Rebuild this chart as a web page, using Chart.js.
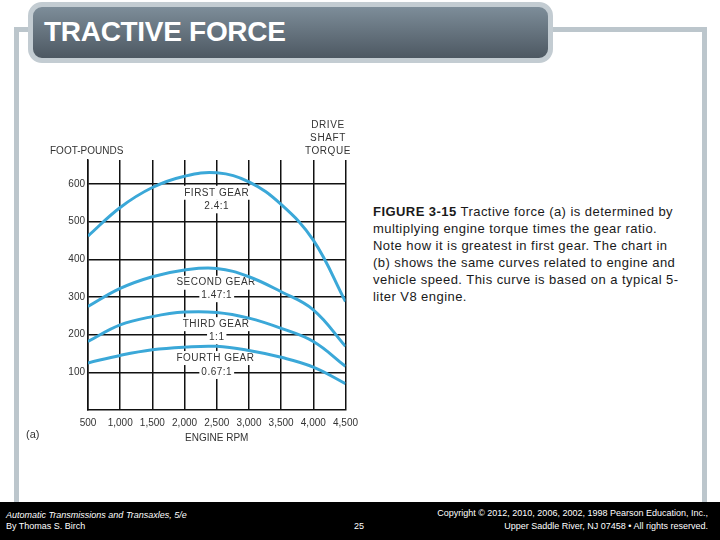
<!DOCTYPE html>
<html>
<head>
<meta charset="utf-8">
<script src="https://cdn.jsdelivr.net/npm/chart.js@4.4.1/dist/chart.umd.min.js"></script>
<style>
  html, body { margin: 0; padding: 0; background: #fff; }
  body { width: 720px; height: 540px; position: relative; overflow: hidden; font-family: "Liberation Sans", Arial, sans-serif; }
  .frame { position: absolute; background: #bcc6cc; }
  #titlebox {
    position: absolute; left: 28px; top: 2px; width: 525px; height: 61px; box-sizing: border-box;
    border: 5px solid #c3ccd2; border-radius: 14px;
    background: linear-gradient(#7d8d99, #4d5862);
  }
  #titlebox span { position: absolute; left: 11px; top: 9px; color: #fff; font-weight: bold; font-size: 28px; letter-spacing: -0.3px; }
  #chart-wrap { position: absolute; left: 20px; top: 110px; width: 345px; height: 340px; }
  .lbl { position: absolute; color: #333; font-size: 10px; white-space: nowrap; }
  #caption { position: absolute; left: 373px; top: 203px; font-size: 13px; letter-spacing: 0.45px; line-height: 17px; color: #1a1a1a; white-space: nowrap; }
  #footer { position: absolute; left: 0; top: 502px; width: 720px; height: 38px; background: #000; color: #fff; font-size: 9px; }
  #footer div { position: absolute; white-space: nowrap; }
</style>
</head>
<body>
<div class="frame" style="left:14px;top:27px;width:5px;height:475px;"></div>
<div class="frame" style="left:14px;top:27px;width:20px;height:5px;"></div>
<div class="frame" style="left:550px;top:27px;width:157px;height:5px;"></div>
<div class="frame" style="left:702px;top:27px;width:5px;height:475px;"></div>
<div id="titlebox"><span>TRACTIVE FORCE</span></div>

<div id="chart-wrap"><canvas id="chart-traccion" width="345" height="340"></canvas></div>

<div class="lbl" style="left:50px;top:145px;">FOOT-POUNDS</div>
<div class="lbl" style="left:298px;top:119px;width:60px;text-align:center;letter-spacing:0.6px;line-height:12.8px;">DRIVE<br>SHAFT<br>TORQUE</div>
<div class="lbl" style="left:26px;top:428px;font-size:11px;">(a)</div>

<div id="caption"><b>FIGURE 3-15</b> Tractive force (a) is determined by<br>multiplying engine torque times the gear ratio.<br>Note how it is greatest in first gear. The chart in<br>(b) shows the same curves related to engine and<br>vehicle speed. This curve is based on a typical 5-<br>liter V8 engine.</div>

<div id="footer">
  <div style="left:6px;top:8px;font-style:italic;">Automatic Transmissions and Transaxles, 5/e</div>
  <div style="left:6px;top:19px;">By Thomas S. Birch</div>
  <div style="left:354px;top:19px;">25</div>
  <div style="right:12px;top:6px;">Copyright © 2012, 2010, 2006, 2002, 1998 Pearson Education, Inc.,</div>
  <div style="right:12px;top:19px;">Upper Saddle River, NJ 07458 • All rights reserved.</div>
</div>

<script>
// ==================== DATOS ====================
const rpm        = [500, 1000, 1500, 2000, 2500, 3000, 3500, 4000, 4500];
const firstGear  = [462, 538, 591, 621, 630, 606, 546, 451, 288];
const secondGear = [275, 323, 354, 372, 376, 354, 314, 266, 169];
const thirdGear  = [182, 226, 248, 260, 259, 244, 217, 182, 116];
const fourthGear = [125, 145, 160, 167, 169, 158, 140, 114, 70];
const yTicks     = [100, 200, 300, 400, 500, 600];

const gearNames  = ['FIRST GEAR', 'SECOND GEAR', 'THIRD GEAR', 'FOURTH GEAR'];
const gearRatios = ['2.4:1', '1.47:1', '1:1', '0.67:1'];
// etiquetas de marcha (rpm, lb-ft)
const nameAnchors  = [[2500, 577], [2490, 338], [2490, 228], [2480, 138]];
const ratioAnchors = [[2500, 541], [2500, 305], [2500, 193], [2500, 101]];

const LINE_COLOR = '#3ba8d8';

// ==================== ETIQUETAS DE MARCHA ====================
const etiquetasMarcha = {
    id: 'etiquetasMarcha',
    beforeDatasetsDraw(chart) {
        const { ctx, scales: { x, y } } = chart;
        ctx.save();
        ctx.font = '10px "Liberation Sans", Arial, sans-serif';
        ctx.letterSpacing = '0.5px';
        ctx.textAlign = 'center';
        ctx.textBaseline = 'middle';
        const dibujar = (txt, [vx, vy]) => {
            const px = x.getPixelForValue(vx), py = y.getPixelForValue(vy);
            const w = ctx.measureText(txt).width;
            ctx.fillStyle = '#fff';
            ctx.fillRect(px - w / 2 - 2, py - 7, w + 4, 14);
            ctx.fillStyle = '#333';
            ctx.fillText(txt, px, py);
        };
        gearNames.forEach((n, i) => {
            dibujar(n, nameAnchors[i]);
            dibujar(gearRatios[i], ratioAnchors[i]);
        });
        ctx.restore();
    }
};

const serie = (data) => ({
    data: rpm.map((r, i) => ({ x: r, y: data[i] })),
    borderColor: LINE_COLOR,
    borderWidth: 3,
    pointRadius: 0,
    tension: 0.4,
    fill: false
});

const ctx = document.getElementById('chart-traccion').getContext('2d');
new Chart(ctx, {
    type: 'line',
    data: { datasets: [serie(firstGear), serie(secondGear), serie(thirdGear), serie(fourthGear)] },
    options: {
        responsive: false,
        animation: false,
        layout: { padding: { top: 50, right: 18, left: 0, bottom: 0 } },
        plugins: { legend: { display: false }, tooltip: { enabled: false } },
        scales: {
            x: {
                type: 'linear', min: 500, max: 4500,
                afterFit: s => { s.height = 40; },
                ticks: {
                    stepSize: 500, padding: 7, color: '#333',
                    font: { size: 10, family: '"Liberation Sans", Arial' },
                    maxRotation: 0,
                    callback: v => v.toLocaleString('en-US')
                },
                grid: { color: '#111', lineWidth: 1.5, drawTicks: false },
                border: { color: '#111', width: 1.5 },
                title: {
                    display: true, text: 'ENGINE RPM', color: '#333',
                    font: { size: 10, family: '"Liberation Sans", Arial' },
                    padding: { top: 0, bottom: 6 }
                }
            },
            y: {
                min: 0, max: 664,
                afterFit: s => { s.width = 68; },
                afterBuildTicks: s => { s.ticks = yTicks.map(v => ({ value: v })); },
                ticks: {
                    padding: 3, color: '#333',
                    font: { size: 10, family: '"Liberation Sans", Arial' }
                },
                grid: { color: '#111', lineWidth: 1.5, drawTicks: false },
                border: { color: '#111', width: 1.5 }
            }
        }
    },
    plugins: [etiquetasMarcha]
});
</script>
</body>
</html>
